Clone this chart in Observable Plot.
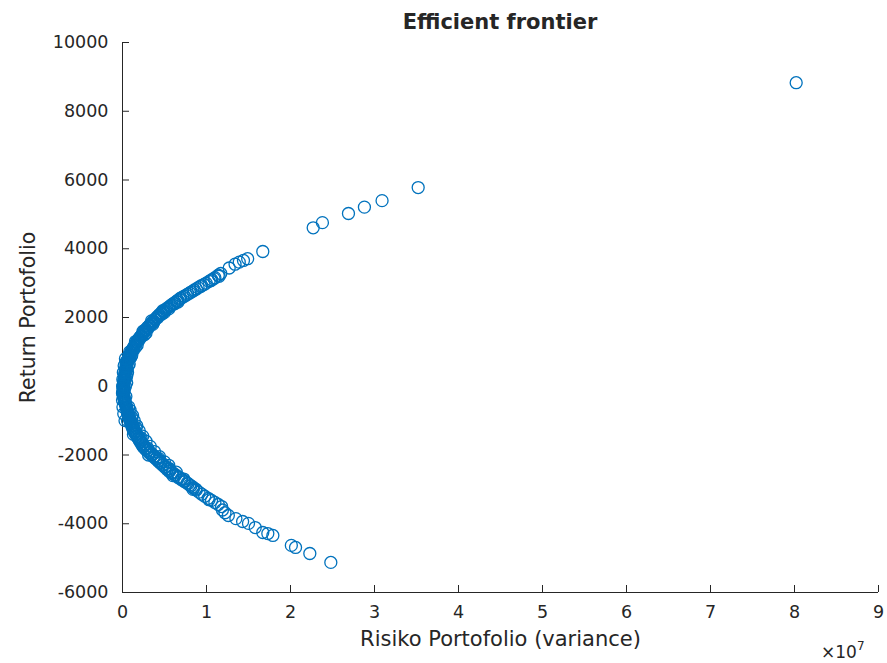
<!DOCTYPE html>
<html><head><meta charset="utf-8">
<script src="https://cdn.jsdelivr.net/npm/d3@7"></script>
<script src="https://cdn.jsdelivr.net/npm/@observablehq/plot@0.6"></script>
<style>
body{margin:0;background:#fff;}
#chart{position:relative;width:887px;height:663px;font-family:"DejaVu Sans",sans-serif;color:#262626;overflow:hidden;}
#title{height:34px;width:756px;padding-left:122px;text-align:center;font-weight:bold;font-size:21px;line-height:44px;}
#exp{position:absolute;left:821px;top:636px;font-size:17px;line-height:22px;}
#exp sup{font-size:12px;position:relative;top:-1px;}
</style></head><body>
<div id="chart"><div id="title"></div><div id="exp">×10<sup>7</sup></div></div>
<script>
const titleText = "Efficient frontier";
const xLabel = "Risiko Portofolio (variance)";
const yLabel = "Return Portofolio";
const xTicks = [0, 1, 2, 3, 4, 5, 6, 7, 8, 9];            // ×10^7
const yTicks = [-6000, -4000, -2000, 0, 2000, 4000, 6000, 8000, 10000];

// [risk (variance, ×10^7), return]
const upperOutliers = [
  [8.02, 8830], [3.52, 5780], [3.09, 5400], [2.88, 5210], [2.69, 5025],
  [2.38, 4760], [2.27, 4610], [1.67, 3920], [1.49, 3710], [1.44, 3660],
  [1.39, 3610], [1.34, 3550], [1.27, 3440]
];
const upperBand = [
  [1.17, 3280], [1.14, 3230], [1.10, 3160], [1.063, 3100], [1.03, 3050], [0.996, 3000],
  [0.94, 2930], [0.90, 2870], [0.855, 2800], [0.815, 2740], [0.775, 2680], [0.735, 2620],
  [0.69, 2560], [0.658, 2500], [0.625, 2440], [0.59, 2380], [0.56, 2320], [0.525, 2260],
  [0.497, 2200], [0.465, 2140], [0.438, 2080], [0.415, 2020], [0.39, 1960], [0.37, 1900],
  [0.35, 1840], [0.325, 1780], [0.30, 1720], [0.28, 1660], [0.263, 1600], [0.245, 1540],
  [0.225, 1480], [0.205, 1420], [0.19, 1360], [0.171, 1300], [0.157, 1240], [0.143, 1180],
  [0.13, 1120], [0.115, 1060], [0.102, 1000], [0.09, 940], [0.08, 880], [0.07, 820],
  [0.06, 760], [0.055, 700], [0.049, 640], [0.044, 580], [0.04, 520], [0.036, 460],
  [0.032, 400], [0.028, 340], [0.024, 280], [0.02, 220], [0.016, 160], [0.013, 100],
  [0.01, 40], [0.008, -20], [0.006, -80], [0.006, -140], [0.007, -200],
  [0.035, 0], [0.04, -300], [0.05, 300], [0.07, 600], [0.11, 900], [0.175, 1200],
  [0.26, 1500], [0.36, 1800], [0.47, 2100], [0.62, 2400], [0.04, 700], [0.085, 1000],
  [0.155, 1300], [0.245, 1600], [0.345, 1900], [0.48, 2200], [0.02, -100], [0.035, 200],
  [0.055, 500], [0.085, 800]
];
const upperBandInner = [
  [1.15, 3200], [1.09, 3130], [1.05, 3070], [0.97, 2960], [0.93, 2900], [0.88, 2830],
  [0.84, 2770], [0.80, 2710], [0.76, 2650], [0.715, 2590], [0.68, 2530], [0.645, 2470],
  [0.61, 2410], [0.578, 2350], [0.545, 2290], [0.515, 2230], [0.485, 2170], [0.455, 2110],
  [0.43, 2050], [0.405, 1990], [0.385, 1930], [0.36, 1870], [0.34, 1810], [0.315, 1750],
  [0.295, 1690], [0.275, 1630], [0.255, 1570], [0.237, 1510], [0.218, 1450], [0.2, 1390],
  [0.183, 1330], [0.166, 1270], [0.152, 1210], [0.138, 1150], [0.124, 1090], [0.11, 1030],
  [0.098, 970], [0.087, 910], [0.077, 850], [0.067, 790], [0.06, 730], [0.054, 670],
  [0.048, 610], [0.044, 550], [0.04, 490], [0.036, 430], [0.032, 370], [0.029, 310],
  [0.026, 250], [0.023, 190], [0.02, 130], [0.018, 70], [0.016, 10], [0.015, -50],
  [0.015, -110], [0.016, -170],
  [0.05, 100], [0.06, 400], [0.08, 650], [0.1, 850], [0.13, 1050], [0.16, 1150],
  [0.2, 1350], [0.23, 1450], [0.28, 1550], [0.31, 1700], [0.37, 1850], [0.42, 2000],
  [0.5, 2150], [0.55, 2250], [0.66, 2450],
  [0.0, -200], [0.002, 0], [0.004, 200], [0.01, 400], [0.02, 600], [0.035, 800]
];
const lowerBand = [
  [0.01, -260], [0.015, -320], [0.02, -380], [0.027, -440], [0.033, -500], [0.04, -560],
  [0.046, -620], [0.051, -680], [0.056, -740], [0.061, -800], [0.07, -860], [0.078, -920],
  [0.087, -980], [0.095, -1040], [0.103, -1100], [0.112, -1160], [0.121, -1220], [0.13, -1280],
  [0.143, -1340], [0.157, -1400], [0.172, -1460], [0.187, -1520], [0.2, -1580], [0.216, -1640],
  [0.23, -1700], [0.245, -1760], [0.267, -1820], [0.293, -1880], [0.32, -1940], [0.346, -2000],
  [0.372, -2060], [0.399, -2120], [0.426, -2180], [0.452, -2240], [0.479, -2300], [0.505, -2360],
  [0.532, -2420], [0.558, -2480], [0.59, -2540], [0.629, -2600], [0.666, -2660], [0.703, -2720],
  [0.74, -2780], [0.78, -2840], [0.813, -2900], [0.845, -2960], [0.878, -3020], [0.91, -3080],
  [0.944, -3140], [0.979, -3200], [1.02, -3260], [1.06, -3320], [1.1, -3380], [1.14, -3440],
  [1.18, -3500],
  [0.075, -600], [0.11, -900], [0.16, -1200], [0.22, -1500], [0.3, -1800], [0.43, -2100],
  [0.56, -2400], [0.73, -2700], [0.06, -1000], [0.13, -1400], [0.31, -2000], [0.6, -2600],
  [0.84, -3000], [1.03, -3300]
];
const lowerBandInner = [
  [0.015, -290], [0.02, -350], [0.025, -410], [0.032, -470], [0.04, -530], [0.046, -590],
  [0.053, -650], [0.059, -710], [0.066, -770], [0.073, -830], [0.082, -890], [0.092, -950],
  [0.1, -1010], [0.11, -1070], [0.12, -1130], [0.13, -1190], [0.14, -1250], [0.15, -1310],
  [0.163, -1370], [0.178, -1430], [0.193, -1490], [0.208, -1550], [0.222, -1610], [0.238, -1670],
  [0.255, -1730], [0.275, -1790], [0.3, -1850], [0.325, -1910], [0.352, -1970], [0.38, -2030],
  [0.405, -2090], [0.432, -2150], [0.458, -2210], [0.485, -2270], [0.512, -2330], [0.538, -2390],
  [0.565, -2450], [0.595, -2510], [0.63, -2570], [0.665, -2630], [0.7, -2690], [0.735, -2750],
  [0.77, -2810], [0.8, -2870], [0.835, -2930], [0.87, -2990],
  [0.09, -700], [0.12, -850], [0.14, -1000], [0.17, -1150], [0.2, -1300], [0.24, -1450],
  [0.28, -1600], [0.33, -1750], [0.38, -1900], [0.44, -2050], [0.5, -2200], [0.55, -2300],
  [0.64, -2500],
  [0.0, -400], [0.005, -600], [0.015, -800], [0.03, -1000]
];
const lowerOutliers = [
  [1.19, -3600], [1.22, -3680], [1.26, -3760], [1.35, -3850], [1.43, -3935], [1.5, -3990],
  [1.58, -4110], [1.67, -4255], [1.73, -4285], [1.79, -4340], [2.01, -4630], [2.06, -4690],
  [2.23, -4865], [2.48, -5125]
];

const points = [...upperOutliers, ...upperBand, ...upperBandInner, ...lowerBand, ...lowerBandInner, ...lowerOutliers]
  .map(([risk, ret]) => ({risk, ret}));

document.getElementById("title").textContent = titleText;
const ink = "#262626";
const plot = Plot.plot({
  width: 887, height: 629,
  marginTop: 8, marginBottom: 71, marginLeft: 122, marginRight: 9,
  style: {fontFamily: "DejaVu Sans, sans-serif", fontSize: "17.5px", color: ink, background: "#fff", overflow: "visible"},
  x: {domain: [0, 9]},
  y: {domain: [-6000, 10000]},
  marks: [
    Plot.ruleX([0], {stroke: ink, strokeWidth: 1}),
    Plot.ruleY([-6000], {stroke: ink, strokeWidth: 1}),
    Plot.axisX({ticks: xTicks, tickSize: 7, dy: -7, text: null, label: null, stroke: ink}),
    Plot.axisX({ticks: xTicks, tickSize: 0, tickPadding: 13, label: null, tickFormat: d => String(d), fill: ink}),
    Plot.axisY({ticks: yTicks, tickSize: 7, dx: 7, text: null, label: null, stroke: ink}),
    Plot.axisY({ticks: yTicks, tickSize: 0, tickPadding: 14, label: null, tickFormat: d => String(d), fill: ink}),
    Plot.dot(points, {x: "risk", y: "ret", r: 6, stroke: "#0072BD", strokeWidth: 1.3, fill: "none"}),
    Plot.text([xLabel], {frameAnchor: "bottom", dy: 53, text: d => d, fontSize: 21, fill: ink}),
    Plot.text([yLabel], {frameAnchor: "left", textAnchor: "middle", dx: -94, rotate: -90, text: d => d, fontSize: 20.5, fill: ink})
  ]
});
document.getElementById("chart").insertBefore(plot, document.getElementById("exp"));
</script>
</body></html>
